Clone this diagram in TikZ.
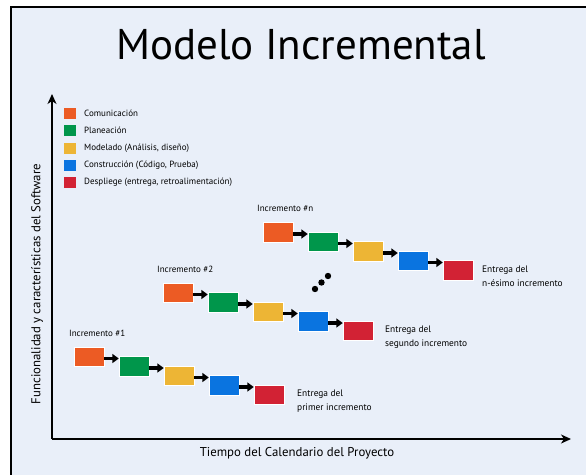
\documentclass[tikz,border=0pt]{standalone}
\usepackage{fontspec}
\setmainfont{PT Sans}
\usetikzlibrary{arrows.meta}
\definecolor{bgc}{HTML}{E9EFF9}
\definecolor{cOr}{HTML}{EC5B24}
\definecolor{cGr}{HTML}{00964B}
\definecolor{cYe}{HTML}{EDB535}
\definecolor{cBl}{HTML}{0A74E0}
\definecolor{cRe}{HTML}{D22234}
\tikzset{
  blk/.style={minimum width=30pt,minimum height=19.5pt,inner sep=0pt,draw=white,line width=0.4pt,fill=#1},
  leg/.style={minimum width=12pt,minimum height=11pt,inner sep=0pt,fill=#1},
  lbl/.style={anchor=west,font=\fontsize{9}{11}\selectfont,inner sep=0pt},
  lbl2/.style={anchor=north west,font=\fontsize{9.4}{13.5}\selectfont,inner sep=0pt,align=left},
  flow/.style={line width=3.8pt,-{Triangle[length=6.5pt,width=9pt]}},
  axis/.style={line width=1.4pt,-{Stealth[length=10pt,width=9pt,inset=3pt]}},
  axlbl/.style={font=\fontsize{12.8}{14}\selectfont},
}
\begin{document}
\begin{tikzpicture}[x=1pt,y=-1pt]
\useasboundingbox (0,0) rectangle (586,474);
\clip (0,0) rectangle (586,474);
\draw[line width=2pt,fill=bgc] (11,7) rectangle (600,490);
\node[font=\fontsize{43}{50}\selectfont] (title) at (301,45) {Modelo Incremental};
% axes
\coordinate (O) at (52,439);
\coordinate (ytop) at (52,94);
\coordinate (xend) at (571,439);
\draw[axis] (O) -- (ytop);
\draw[axis] (O) -- (xend);
\node[axlbl] (xlab) at (297,453) {Tiempo del Calendario del Proyecto};
\node[axlbl,rotate=90] (ylab) at (37,284) {Funcionalidad y características del Software};
% legend
\foreach \c/\t [count=\i from 0] in {cOr/Comunicación,cGr/Planeación,cYe/{Modelado (Análisis, diseño)},cBl/{Construcción (Código, Prueba)},cRe/{Despliege (entrega, retroalimentación)}}{
  \node[leg=\c] (L\i) at (70,{113.5+17.3*\i}) {};
  \node[lbl] (LT\i) at (84,{113.5+17.3*\i}) {\t};
}
% increments
\foreach \k/\x/\y in {a/89/356.5,b/178/292.5,n/278/232}{
  \node[blk=cOr] (\k1) at (\x,\y) {};
  \node[blk=cGr] (\k2) at (\x+45,\y+9.5) {};
  \node[blk=cYe] (\k3) at (\x+90,\y+19) {};
  \node[blk=cBl] (\k4) at (\x+135,\y+28.5) {};
  \node[blk=cRe] (\k5) at (\x+180,\y+38) {};
  \foreach \p/\q in {1/2,2/3,3/4,4/5}{
    \draw[flow] ([yshift=-2pt]\k\p.east) -- ([yshift=-2pt]\k\p.east -| \k\q.west);
  }
}
\node[lbl] (ia) at (69,333) {Incremento \#1};
\node[lbl] (ib) at (157,269) {Incremento \#2};
\node[lbl] (in) at (257,208) {Incremento \#n};
\node[lbl2] (ea) at (297,390) {Entrega del\\primer incremento};
\node[lbl2] (eb) at (385,326) {Entrega del\\segundo incremento};
\node[lbl2] (en) at (482,266) {Entrega del\\n-ésimo incremento};
% dots
\fill (315,289) circle (3.2pt);
\fill (321.5,282.5) circle (3.2pt);
\fill (328,276) circle (3.2pt);
\end{tikzpicture}
\end{document}
